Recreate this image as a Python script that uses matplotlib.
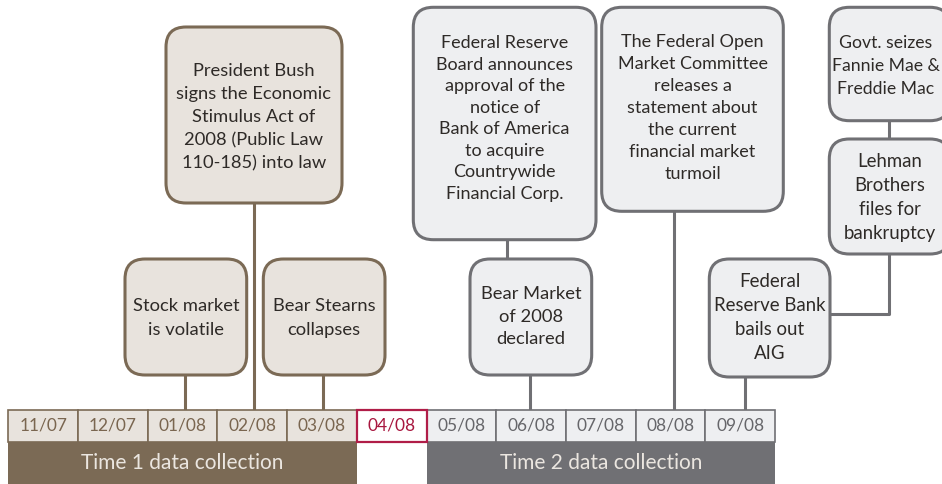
import matplotlib
matplotlib.use("Agg")
import matplotlib.pyplot as plt
from matplotlib.patches import FancyBboxPatch, Rectangle

plt.rcParams['font.family'] = ['Lato', 'DejaVu Sans']

# ---------------- data ----------------
months = ['11/07', '12/07', '01/08', '02/08', '03/08', '04/08',
          '05/08', '06/08', '07/08', '08/08', '09/08']
month_phase = ['t1', 't1', 't1', 't1', 't1', 'gap', 't2', 't2', 't2', 't2', 't2']
phase_labels = {'t1': 'Time 1 data collection', 't2': 'Time 2 data collection'}

event_texts = [
    "Stock market\nis volatile",
    "President Bush\nsigns the Economic\nStimulus Act of\n2008 (Public Law\n110-185) into law",
    "Bear Stearns\ncollapses",
    "Bear Market\nof 2008\ndeclared",
    "Federal Reserve\nBoard announces\napproval of the\nnotice of\nBank of America\nto acquire\nCountrywide\nFinancial Corp.",
    "The Federal Open\nMarket Committee\nreleases a\nstatement about\nthe current\nfinancial market\nturmoil",
    "Federal\nReserve Bank\nbails out\nAIG",
    "Lehman\nBrothers\nfiles for\nbankruptcy",
    "Govt. seizes\nFannie Mae &\nFreddie Mac",
]
event_month = [2, 3, 4, 7, 7, 9, 10, 10, 10]
event_phase = ['t1', 't1', 't1', 't2', 't2', 't2', 't2', 't2', 't2']
# index of the event box each event hangs from (None = linked to the month cell)
event_parent = [None, None, None, None, 3, None, None, 6, 7]

# ---------------- layout (pixels) ----------------
W, H = 942, 485
cell_x0, cell_w = 8.3, 69.7
cell_top, cell_bot = 410.7, 443.3
bar_bot = 485
box_rects = [  # x0, y0, x1, y1
    (125, 260, 246.7, 376),
    (166, 28, 342, 204),
    (263.3, 260, 385, 376),
    (470, 260, 591.7, 376),
    (413.3, 8.3, 596, 240.7),
    (601.7, 8.3, 783.3, 212.3),
    (709.3, 260, 830, 378),
    (829.3, 140, 950, 255),
    (829.3, 8.3, 950, 121.7),
]
conn_offset = [2, 1.7, 1, -0.7, 0, 4, 4.5, 0, 0]
box_fontsize = [13.2, 13.2, 13.2, 13.2, 13.0, 13.0, 13.4, 13.4, 12.7]
box_linespacing = [1.6, 1.55, 1.6, 1.5, 1.42, 1.46, 1.5, 1.5, 1.55]
text_dx = [0, 0, 0, 0, 0, 0, 0, 0, -4]
text_dy = [0, 1, 0, -1, -6, -2, -1, 0, 1]

styles = {
    't1': dict(fill='#e8e3dd', edge='#7b6a55', bar='#7b6a55', mtext='#7a6650'),
    't2': dict(fill='#eeeff1', edge='#707074', bar='#707074', mtext='#66666a'),
    'gap': dict(fill='#ffffff', edge='#b01d48', bar=None, mtext='#a8173f'),
}
text_color = '#2e2a27'
bar_text_color = '#ebe6e0'

fig = plt.figure(figsize=(W / 100, H / 100), dpi=100)
ax = fig.add_axes([0, 0, 1, 1])
ax.set_xlim(0, W)
ax.set_ylim(H, 0)
ax.axis('off')


def cell_center(i):
    return cell_x0 + cell_w * (i + 0.5)


# month cells
for i, (m, ph) in enumerate(zip(months, month_phase)):
    st = styles[ph]
    lw = 1.6 if ph == 'gap' else 1.2
    ax.add_patch(Rectangle((cell_x0 + cell_w * i, cell_top), cell_w, cell_bot - cell_top,
                           facecolor=st['fill'], edgecolor=st['edge'], lw=lw, zorder=3 if ph == 'gap' else 2))
    ax.text(cell_center(i), (cell_top + cell_bot) / 2 - 1, m, ha='center', va='center',
            fontsize=12.5, color=st['mtext'], zorder=4)

# phase bars
for ph in ['t1', 't2']:
    idx = [i for i, p in enumerate(month_phase) if p == ph]
    x0 = cell_x0 + cell_w * min(idx)
    x1 = cell_x0 + cell_w * (max(idx) + 1)
    ax.add_patch(Rectangle((x0, cell_bot), x1 - x0, bar_bot - cell_bot,
                           facecolor=styles[ph]['bar'], edgecolor='none', zorder=1))
    ax.text((x0 + x1) / 2, (cell_bot + bar_bot) / 2 - 1.5, phase_labels[ph], ha='center', va='center',
            fontsize=15, color=bar_text_color, zorder=4)

# connectors
for k in range(len(event_texts)):
    x0, y0, x1, y1 = box_rects[k]
    ec = styles[event_phase[k]]['edge']
    par = event_parent[k]
    if par is None:
        cx = cell_center(event_month[k]) + conn_offset[k]
        ax.plot([cx, cx], [y1, cell_top], color=ec, lw=2.2, zorder=1, solid_capstyle='butt')
    else:
        px0, py0, px1, py1 = box_rects[par]
        cx = (x0 + x1) / 2 - 0.5
        if k == 4:
            cx = 507
        if px1 <= x0 + 5 and py0 > y1:
            # elbow: down then left into parent's right side
            ymid = (py0 + py1) / 2 - 4
            ax.plot([cx, cx, px1], [y1, ymid, ymid], color=ec, lw=2.2, zorder=1)
        else:
            ax.plot([cx, cx], [y1, py0], color=ec, lw=2.2, zorder=1, solid_capstyle='butt')

# event boxes
for k, txt in enumerate(event_texts):
    x0, y0, x1, y1 = box_rects[k]
    st = styles[event_phase[k]]
    ax.add_patch(FancyBboxPatch((x0, y0), x1 - x0, y1 - y0,
                                boxstyle='round,pad=0,rounding_size=20',
                                facecolor=st['fill'], edgecolor=st['edge'], lw=2.2, zorder=2))
    ax.text((x0 + x1) / 2 + text_dx[k], (y0 + y1) / 2 + text_dy[k], txt, ha='center', va='center',
            multialignment='center', fontsize=box_fontsize[k], linespacing=box_linespacing[k],
            color=text_color, zorder=4)

fig.savefig('out.png', dpi=100)
